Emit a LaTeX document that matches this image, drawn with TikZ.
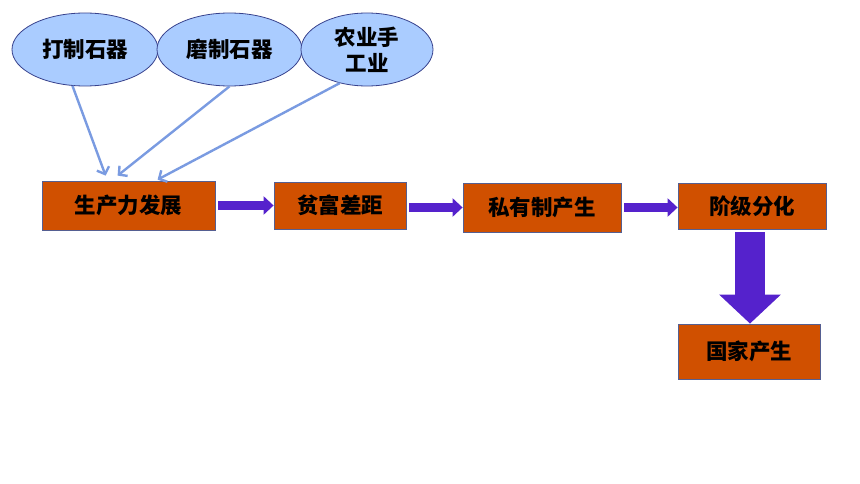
\documentclass[tikz,border=0pt]{standalone}
\usepackage{fontspec}
\newfontfamily\cjk{Noto Sans CJK SC}
\usetikzlibrary{shapes.geometric,arrows.meta,calc}
\definecolor{ellfill}{RGB}{170,204,255}
\definecolor{elldraw}{RGB}{55,65,140}
\definecolor{boxfill}{RGB}{208,80,0}
\definecolor{boxdraw}{RGB}{85,95,145}
\definecolor{purp}{RGB}{85,34,204}
\definecolor{lineblue}{RGB}{122,155,225}
\tikzset{
  ell/.style={ellipse, draw=elldraw, fill=ellfill, line width=0.8pt, inner sep=0pt,
    font=\cjk\bfseries\fontsize{21.5}{26}\selectfont, align=center},
  stepbox/.style={rectangle, draw=boxdraw, fill=boxfill, line width=0.8pt, inner sep=0pt,
    font=\cjk\bfseries\fontsize{21.5}{24}\selectfont},
  thin arrow/.style={draw=lineblue, line width=2.4pt, -{Straight Barb[length=6pt,width=13pt]}},
  block arrow/.style={draw=purp, line width=9pt, -{Triangle[length=10pt,width=18pt]}, shorten <=3pt},
  big arrow/.style={draw=purp, line width=30pt, -{Triangle[length=29pt,width=60pt]}, shorten <=3pt}
}
\begin{document}
\begin{tikzpicture}[x=1pt,y=-1pt]
\useasboundingbox (0,0) rectangle (860,484);
\node[ell, minimum width=146pt, minimum height=73pt] (e1) at (85,49.5) {打制石器};
\node[ell, minimum width=145pt, minimum height=73pt] (e2) at (229.5,49.5) {磨制石器};
\node[ell, minimum width=132pt, minimum height=73pt] (e3) at (367,49.5) {农业手\\工业};

\node[stepbox, minimum width=173pt, minimum height=49pt] (b1) at (128.5,205.5) {生产力发展};
\node[stepbox, minimum width=132pt, minimum height=47pt] (b2) at (340,205.5) {贫富差距};
\node[stepbox, minimum width=158pt, minimum height=49pt] (b3) at (542,207.5) {私有制产生};
\node[stepbox, minimum width=148pt, minimum height=46pt] (b4) at (752,206) {阶级分化};
\node[stepbox, minimum width=142pt, minimum height=55pt] (b5) at (749,351.5) {国家产生};

\coordinate (t1) at ($(b1.north west)+(64,-5)$);
\coordinate (t2) at ($(b1.north west)+(76,-5)$);
\coordinate (t3) at ($(b1.north west)+(116,-1)$);
\draw[thin arrow] (e1.-109) -- (t1);
\draw[thin arrow] (e2.south) -- (t2);
\draw[thin arrow] (e3.-129) -- (t3);

\draw[block arrow] (b1.east) -- (b2.west);
\draw[block arrow] ($(b2.east)+(0,2)$) -- ($(b3.west)+(0,0)$);
\draw[block arrow] ($(b3.east)+(0,0)$) -- ($(b4.west)+(0,1.5)$);
\coordinate (d1) at ($(b4.south)+(-2,0)$);
\coordinate (d2) at ($(b5.north)+(0,0)$);
\draw[big arrow] (d1) -- (d1 |- d2);
\end{tikzpicture}
\end{document}
